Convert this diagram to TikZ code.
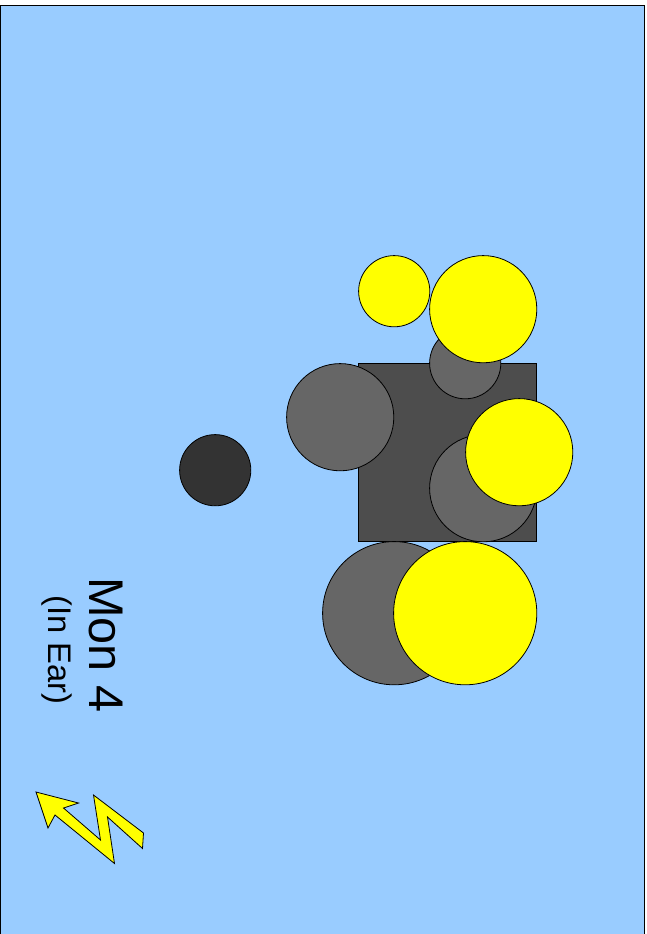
\documentclass[tikz,border=0pt]{standalone}
\usepackage{fontspec}
\setmainfont{Liberation Sans}
\definecolor{skyfill}{HTML}{99CCFF}
\definecolor{boxgray}{HTML}{4D4D4D}
\definecolor{midgray}{HTML}{666666}
\definecolor{darkgray}{HTML}{333333}
\definecolor{hityellow}{HTML}{FFFF00}

\begin{document}
\begin{tikzpicture}[
    x=0.75pt, y=-0.75pt,
    disc/.style={circle, draw=black, line width=0.6pt, inner sep=0pt, minimum size=#1*1.5pt-0.6pt},
    graydisc/.style={disc=#1, fill=midgray},
    yellowdisc/.style={disc=#1, fill=hityellow},
    label/.style={rotate=-90, inner sep=0pt, text=black}
]
    \useasboundingbox (0,0) rectangle (646,934);

    \node[draw=black, line width=0.6pt, fill=skyfill, inner sep=0pt, minimum width=644*0.75pt,
          minimum height=932*0.75pt] (panel) at (322.5,471) {};

    \node[draw=black, line width=0.6pt, fill=boxgray, inner sep=0pt,
          minimum size=178*0.75pt] (box) at (447.5,452.5) {};

    \node[graydisc=36]   (g1) at (465.2,363.2) {};
    \node[graydisc=54]   (g2) at (340.2,417.2) {};
    \node[graydisc=54]   (g3) at (483.2,488.2) {};
    \node[graydisc=72]   (g4) at (394.2,613.2) {};
    \node[disc=36, fill=darkgray] (d1) at (215.2,470.2) {};

    \node[yellowdisc=36] (y1) at (394.2,291.2) {};
    \node[yellowdisc=54] (y2) at (483.2,309.2) {};
    \node[yellowdisc=54] (y3) at (519.2,452.2) {};
    \node[yellowdisc=72] (y4) at (465.2,613.2) {};

    \node[label, font=\fontsize{36.5}{36.5}\selectfont] (mon) at (106,645) {Mon 4};
    \node[label, font=\fontsize{24.5}{24.5}\selectfont] (ear) at (57,650) {(In Ear)};

    % bolt
    \draw[fill=hityellow, line width=0.6pt, line join=miter]
        (36,792) -- (78.5,803) -- (63.5,808) -- (100.5,840) -- (93.5,795) -- (143.5,833)
        -- (142.5,848.5) -- (107.5,817) -- (114.5,863.5) -- (55,815) -- (48,828) -- cycle;
\end{tikzpicture}
\end{document}
